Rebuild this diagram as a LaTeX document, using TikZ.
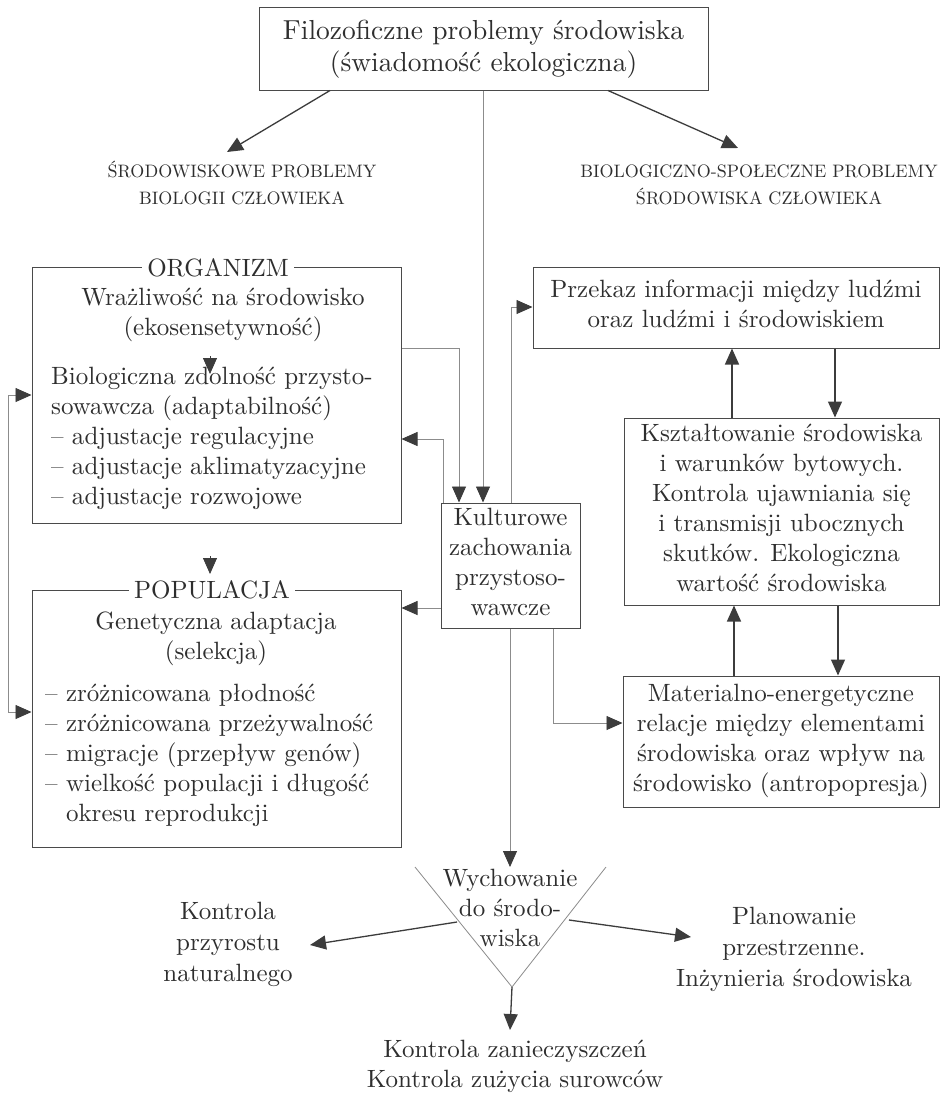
\documentclass[tikz,border=0pt]{standalone}
\usepackage{fontspec}
\setmainfont{lmroman10-regular.otf}
\usetikzlibrary{arrows.meta,calc}
\definecolor{ink}{HTML}{2E2E2E}
\definecolor{boxc}{HTML}{4A4A4A}
\definecolor{thinc}{HTML}{8C8C8C}
\definecolor{tipc}{HTML}{3C3C3C}
\newcommand{\zs}{\rule[-8pt]{0pt}{30pt}}
\newcommand{\zc}{\rule[-7.4pt]{0pt}{27pt}}
\newcommand{\zt}{\rule[-9pt]{0pt}{32pt}}
\begin{document}
\begin{tikzpicture}[x=1pt,y=-1pt,
  every node/.style={text=ink},
  txt/.style={font=\fontsize{25}{30}\selectfont, align=center, inner sep=0pt,
    execute at begin node=\zs, execute at end node=\zs},
  lst/.style={txt, align=left},
  capt/.style={font=\fontsize{18}{27}\selectfont, align=center, inner sep=0pt,
    execute at begin node=\zc, execute at end node=\zc},
  bx/.style={draw=boxc, line width=1pt, rectangle, inner sep=0pt},
  ttl/.style={font=\fontsize{25}{30}\selectfont, fill=white, inner xsep=5pt, inner ysep=1pt},
  garr/.style={draw=thinc, line width=0.8pt, -{Triangle[length=16pt,width=14pt,color=tipc]}},
  garrb/.style={draw=thinc, line width=0.8pt, {Triangle[length=16pt,width=14pt,color=tipc]}-{Triangle[length=16pt,width=14pt,color=tipc]}},
  darr/.style={draw=tipc, line width=1.3pt, -{Triangle[length=16pt,width=14pt,color=tipc]}},
  tiponly/.style={draw=tipc, line width=0.8pt, -{Triangle[length=16pt,width=14pt,color=tipc]}},
  tri/.style={draw=thinc, line width=0.8pt}
]
\useasboundingbox[fill=white] (0,0) rectangle (944,1096);

% top
\node[bx, minimum width=449pt, minimum height=83pt, font=\fontsize{27.5}{32}\selectfont, align=center] (top) at (483.5,48.5)
  {\zt Filozoficzne problemy środowiska\\(świadomość ekologiczna)\zt};

\node[capt] (lh) at (242,186.5) {ŚRODOWISKOWE PROBLEMY\\BIOLOGII CZŁOWIEKA};
\node[capt] (rh) at (759,188) {BIOLOGICZNO-SPOŁECZNE PROBLEMY\\ŚRODOWISKA CZŁOWIEKA};
\coordinate (lht) at (227,152);
\coordinate (rht) at (738,148);
\draw[darr] (330,0 |- top.south) -- (lht);
\draw[darr] (608,0 |- top.south) -- (rht);

% ORGANIZM
\node[bx, minimum width=369pt, minimum height=256pt] (org) at (216.5,395) {};
\node[ttl] (orgt) at (218,268) {ORGANIZM};
\node[txt] (orga) at (223,316) {Wrażliwość na środowisko\\(ekosensetywność)};
\node[lst, anchor=west] (orgb) at (51,440) {Biologiczna zdolność przysto-\\sowawcza (adaptabilność)\\– adjustacje regulacyjne\\– adjustacje aklimatyzacyjne\\– adjustacje rozwojowe};
\coordinate (oa1) at (210,356);
\coordinate (oa2) at (210,374);
\draw[tiponly] (oa1) -- (oa2);

% POPULACJA
\node[bx, minimum width=369pt, minimum height=257pt] (pop) at (216.5,718.5) {};
\node[ttl] (popt) at (212,590) {POPULACJA};
\node[txt] (popa) at (216,640) {Genetyczna adaptacja\\(selekcja)};
\node[lst, anchor=west] (popb) at (45,757) {– zróżnicowana płodność\\– zróżnicowana przeżywalność\\– migracje (przepływ genów)\\– wielkość populacji i długość\\\phantom{– }okresu reprodukcji};
\coordinate (op1) at (210,556);
\coordinate (op2) at (210,574);
\draw[tiponly] (op1) -- (op2);

% left loop
\draw[garrb] (org.west |- 0,395) -- (8,395) -- (8,712) -- (pop.west |- 0,712);

% Kulturowe
\node[bx, txt, minimum width=139pt, minimum height=125pt] (kul) at (510.5,565.5)
  {Kulturowe\\zachowania\\przystoso-\\wawcze};

% right boxes
\node[bx, txt, minimum width=406pt, minimum height=81pt] (prz) at (736,307.5)
  {Przekaz informacji między ludźmi\\oraz ludźmi i środowiskiem};
\node[bx, txt, minimum width=315pt, minimum height=187pt] (ksz) at (781.5,511.5)
  {Kształtowanie środowiska\\i warunków bytowych.\\Kontrola ujawniania się\\i transmisji ubocznych\\skutków. Ekologiczna\\wartość środowiska};
\node[bx, txt, minimum width=316pt, minimum height=131pt] (mat) at (781,741.5)
  {Materialno-energetyczne\\relacje między elementami\\środowiska oraz wpływ na\\środowisko (antropopresja)};

% connectors around Kulturowe
\draw[garr] (483,0 |- top.south) -- (483,0 |- kul.north);
\draw[garr] (org.east |- 0,348) -| (459,0 |- kul.north);
\draw[garr] (443,0 |- kul.north) |- (org.east |- 0,439);
\draw[garr] (kul.west |- 0,608) -- (pop.east |- 0,608);
\draw[garr] (511,0 |- kul.north) |- (prz.west |- 0,307);
\draw[garr] (553,0 |- kul.south) |- (mat.west |- 0,723);

% right column arrows
\draw[darr] (732,0 |- ksz.north) -- (732,0 |- prz.south);
\draw[darr] (835,0 |- prz.south) -- (835,0 |- ksz.north);
\draw[darr] (734,0 |- mat.north) -- (734,0 |- ksz.south);
\draw[darr] (838,0 |- ksz.south) -- (838,0 |- mat.north);

% Wychowanie
\coordinate (tl) at (415,867);
\coordinate (tr) at (606,867);
\coordinate (tb) at (512,987);
\draw[tri] (tl) -- (tb) -- (tr);
\node[txt] (wy) at (510,912) {Wychowanie\\do środo-\\wiska};
\coordinate (wt) at (510,867);
\draw[garr] (510,0 |- kul.south) -- (wt);

\node[txt, font=\fontsize{25}{31}\selectfont] (kp) at (228,946) {Kontrola\\przyrostu\\naturalnego};
\node[txt, font=\fontsize{25}{31}\selectfont] (pl) at (794,951) {Planowanie\\przestrzenne.\\Inżynieria środowiska};
\node[txt] (kz) at (515,1068) {Kontrola zanieczyszczeń\\Kontrola zużycia surowców};

\coordinate (wl) at (457,922);
\coordinate (wr) at (569,920);
\coordinate (kpt) at (310,945);
\coordinate (plt) at (691,937);
\coordinate (kzt) at (510,1030);
\draw[darr] (wl) -- (kpt);
\draw[darr] (wr) -- (plt);
\draw[darr] (tb) -- (kzt);
\end{tikzpicture}
\end{document}
